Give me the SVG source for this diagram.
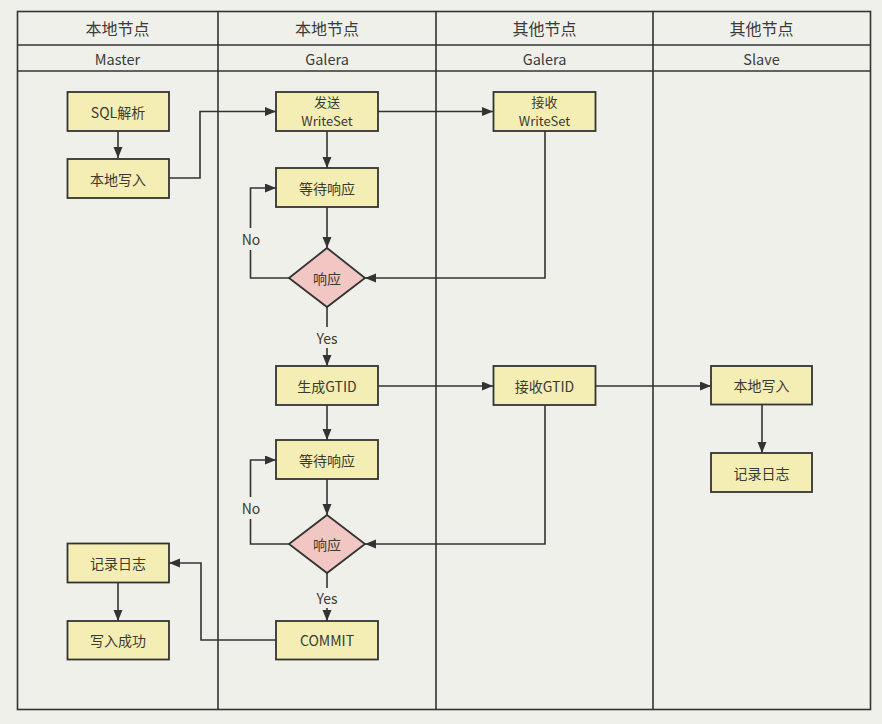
<svg xmlns="http://www.w3.org/2000/svg" width="882" height="724" viewBox="0 0 882 724">
<style>
.bg{fill:#f0f0ea}
.frame{fill:none;stroke:#333;stroke-width:1.6}
.box{fill:#f4eeb4;stroke:#333;stroke-width:1.8}
.dia{fill:#f2c6c2;stroke:#333;stroke-width:1.8}
.t{font-family:"Noto Sans CJK SC","Microsoft YaHei",sans-serif;font-size:14px;fill:#3a3a33;text-anchor:middle;dominant-baseline:central}
.t2{font-family:"Noto Sans CJK SC","Microsoft YaHei",sans-serif;font-size:13px;fill:#3a3a33;text-anchor:middle;dominant-baseline:central}
.h{font-family:"Noto Sans CJK SC","Microsoft YaHei",sans-serif;font-size:16px;fill:#3a3a3a;text-anchor:middle;dominant-baseline:central}
.h2{font-family:"Noto Sans CJK SC","Microsoft YaHei",sans-serif;font-size:14.5px;fill:#3a3a3a;text-anchor:middle;dominant-baseline:central}
.c{fill:none;stroke:#333;stroke-width:1.6}
.ca{fill:none;stroke:#333;stroke-width:1.6;marker-end:url(#arr)}
</style>
<defs>
<marker id="arr" markerUnits="userSpaceOnUse" markerWidth="12" markerHeight="10" refX="11" refY="4.5" orient="auto">
<path d="M0,0 L11,4.5 L0,9 z" fill="#333"/>
</marker>
</defs>
<rect class="bg" x="0" y="0" width="882" height="724"/>
<g id="lanes">
<rect class="frame" x="17.5" y="11.5" width="853" height="698"/>
<line class="frame" x1="17.5" y1="45" x2="870.5" y2="45"/>
<line class="frame" x1="17.5" y1="71" x2="870.5" y2="71" stroke-width="2.2"/>
<line class="frame" x1="218" y1="11.5" x2="218" y2="709.5"/>
<line class="frame" x1="436" y1="11.5" x2="436" y2="709.5"/>
<line class="frame" x1="653" y1="11.5" x2="653" y2="709.5"/>
<text class="h" x="117.5" y="28">本地节点</text>
<text class="h" x="327" y="28">本地节点</text>
<text class="h" x="544.5" y="28">其他节点</text>
<text class="h" x="761.5" y="28">其他节点</text>
<text class="h2" x="117.5" y="58">Master</text>
<text class="h2" x="327" y="58">Galera</text>
<text class="h2" x="544.5" y="58">Galera</text>
<text class="h2" x="761.5" y="58">Slave</text>
</g>
<g id="connectors">
<path class="ca" d="M118,131 V158"/>
<path class="ca" d="M169,178 H200 V111.5 H276"/>
<path class="ca" d="M378,111.5 H493"/>
<path class="ca" d="M327,131 V168"/>
<path class="ca" d="M327,207 V248"/>
<path class="c" d="M289,278 H250.5 V250"/>
<path class="ca" d="M250.5,228 V188 H276"/>
<path class="ca" d="M545,131 V278 H365"/>
<path class="c" d="M327,307 V327"/>
<path class="ca" d="M327,348 V366"/>
<path class="ca" d="M378,386 H493"/>
<path class="ca" d="M596,386 H711"/>
<path class="ca" d="M762,404 V453"/>
<path class="ca" d="M327,405 V440"/>
<path class="ca" d="M327,479 V515"/>
<path class="c" d="M289,544 H250.5 V519"/>
<path class="ca" d="M250.5,497 V460 H276"/>
<path class="ca" d="M545,405 V544 H365"/>
<path class="c" d="M327,573 V588"/>
<path class="ca" d="M327,608 V621"/>
<path class="ca" d="M276,640 H201 V563 H169"/>
<path class="ca" d="M118,582 V621"/>
<text class="t" x="251" y="239">No</text>
<text class="t" x="251" y="508">No</text>
<text class="t" x="327" y="338">Yes</text>
<text class="t" x="327" y="598">Yes</text>
</g>
<g id="sql-parse"><rect class="box" x="67.5" y="92" width="101.5" height="39"/><text class="t" x="118" y="111.5">SQL解析</text></g>
<g id="master-write"><rect class="box" x="67.5" y="159" width="101.5" height="39"/><text class="t" x="118" y="178.5">本地写入</text></g>
<g id="send-writeset"><rect class="box" x="276" y="92" width="102" height="39"/><text class="t2" x="327" y="101.5">发送</text><text class="t2" x="327" y="120.5">WriteSet</text></g>
<g id="recv-writeset"><rect class="box" x="493.5" y="92" width="102" height="39"/><text class="t2" x="544.5" y="101.5">接收</text><text class="t2" x="544.5" y="120.5">WriteSet</text></g>
<g id="wait1"><rect class="box" x="276" y="168" width="102" height="39"/><text class="t" x="327" y="187.5">等待响应</text></g>
<g id="resp1"><polygon class="dia" points="327,248 365,278 327,307 289,278"/><text class="t" x="327" y="278">响应</text></g>
<g id="gen-gtid"><rect class="box" x="276" y="366" width="102" height="39"/><text class="t" x="327" y="385.5">生成GTID</text></g>
<g id="recv-gtid"><rect class="box" x="493.5" y="366" width="102" height="39"/><text class="t" x="544.5" y="385.5">接收GTID</text></g>
<g id="slave-write"><rect class="box" x="711" y="366" width="101" height="38.5"/><text class="t" x="761.5" y="385">本地写入</text></g>
<g id="slave-log"><rect class="box" x="711" y="453" width="101" height="39"/><text class="t" x="761.5" y="472.5">记录日志</text></g>
<g id="wait2"><rect class="box" x="276" y="440" width="102" height="39"/><text class="t" x="327" y="459.5">等待响应</text></g>
<g id="resp2"><polygon class="dia" points="327,515 365,544 327,573 289,544"/><text class="t" x="327" y="544">响应</text></g>
<g id="commit"><rect class="box" x="276" y="621" width="102" height="38.5"/><text class="t" x="327" y="640">COMMIT</text></g>
<g id="master-log"><rect class="box" x="67.5" y="543.5" width="101.5" height="39"/><text class="t" x="118" y="563">记录日志</text></g>
<g id="write-ok"><rect class="box" x="67.5" y="621" width="101.5" height="38.5"/><text class="t" x="118" y="640">写入成功</text></g>
</svg>
